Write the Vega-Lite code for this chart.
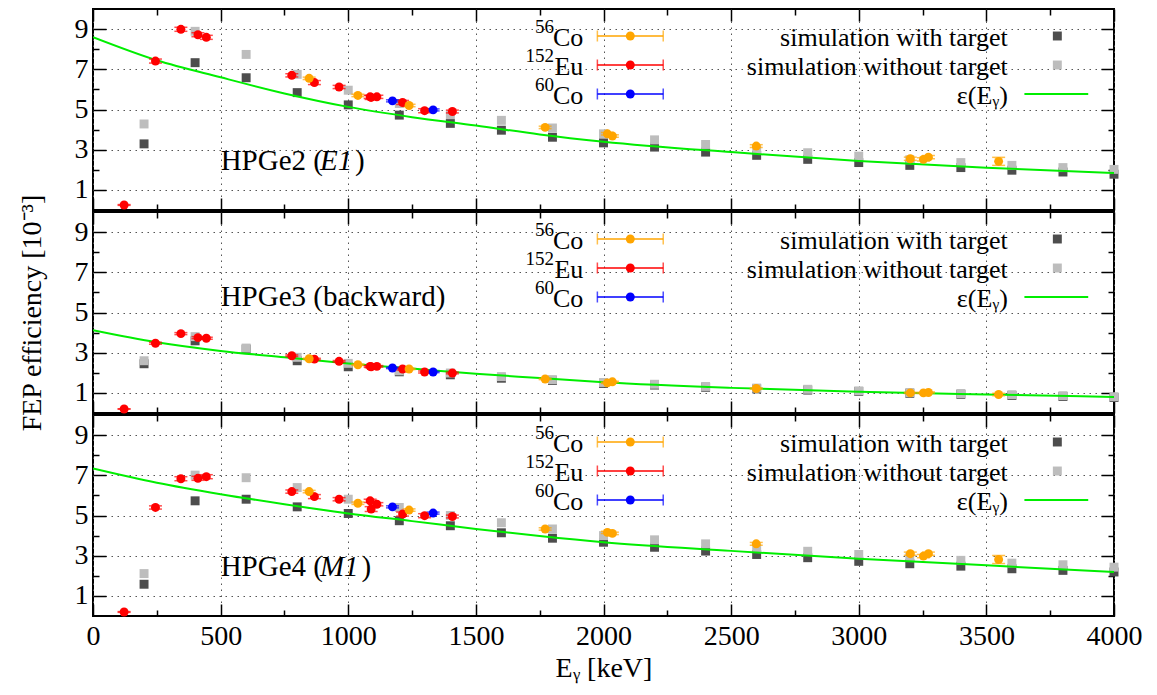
{
"$schema":"https://vega.github.io/schema/vega-lite/v6.json",
"background":"white",
"padding":{"left":16,"top":7,"right":5,"bottom":2},
"spacing":2,
"bounds":"flush",
"config":{
 "concat":{"spacing":2},
 "view":{"stroke":"black","strokeWidth":2},
 "axis":{"domain":false,"grid":false,"labels":false,"ticks":true,"minExtent":0,"tickColor":"black","tickWidth":1.5,"labelFont":"Liberation Serif","labelFontSize":28,"labelColor":"black","titleFont":"Liberation Serif","titleFontSize":28,"titleFontWeight":"normal","titleColor":"black","gridColor":"#555555","gridDash":[1.5,4.5],"gridWidth":1,"labelFlush":false,"labelOverlap":false}
},
"datasets":{
 "meas":[
  {"d":"HPGe2","s":"152Eu","E":121.8,"v":0.25,"e":0.02},{"d":"HPGe2","s":"152Eu","E":244.7,"v":7.41,"e":0.1},{"d":"HPGe2","s":"152Eu","E":344.3,"v":8.99,"e":0.1},{"d":"HPGe2","s":"152Eu","E":411.1,"v":8.72,"e":0.1},{"d":"HPGe2","s":"152Eu","E":444.0,"v":8.59,"e":0.1},{"d":"HPGe2","s":"152Eu","E":778.9,"v":6.70,"e":0.08},{"d":"HPGe2","s":"152Eu","E":867.4,"v":6.34,"e":0.1},{"d":"HPGe2","s":"152Eu","E":964.1,"v":6.12,"e":0.08},{"d":"HPGe2","s":"152Eu","E":1085.8,"v":5.63,"e":0.08},{"d":"HPGe2","s":"152Eu","E":1089.7,"v":5.60,"e":0.1},{"d":"HPGe2","s":"152Eu","E":1112.1,"v":5.63,"e":0.08},{"d":"HPGe2","s":"152Eu","E":1212.9,"v":5.35,"e":0.1},{"d":"HPGe2","s":"152Eu","E":1299.1,"v":4.94,"e":0.1},{"d":"HPGe2","s":"152Eu","E":1408.0,"v":4.90,"e":0.07},
  {"d":"HPGe2","s":"56Co","E":846.8,"v":6.55,"e":0.06},{"d":"HPGe2","s":"56Co","E":1037.8,"v":5.70,"e":0.06},{"d":"HPGe2","s":"56Co","E":1238.3,"v":5.20,"e":0.06},{"d":"HPGe2","s":"56Co","E":1771.4,"v":4.11,"e":0.06},{"d":"HPGe2","s":"56Co","E":2015.2,"v":3.79,"e":0.06},{"d":"HPGe2","s":"56Co","E":2034.8,"v":3.68,"e":0.06},{"d":"HPGe2","s":"56Co","E":2598.5,"v":3.18,"e":0.07},{"d":"HPGe2","s":"56Co","E":3202.0,"v":2.55,"e":0.08},{"d":"HPGe2","s":"56Co","E":3253.4,"v":2.52,"e":0.08},{"d":"HPGe2","s":"56Co","E":3273.0,"v":2.63,"e":0.08},{"d":"HPGe2","s":"56Co","E":3548.0,"v":2.42,"e":0.2},
  {"d":"HPGe2","s":"60Co","E":1173.2,"v":5.43,"e":0.05},{"d":"HPGe2","s":"60Co","E":1332.5,"v":4.98,"e":0.05},
  {"d":"HPGe3","s":"152Eu","E":121.8,"v":0.2,"e":0.01},{"d":"HPGe3","s":"152Eu","E":244.7,"v":3.47,"e":0.05},{"d":"HPGe3","s":"152Eu","E":344.3,"v":3.95,"e":0.05},{"d":"HPGe3","s":"152Eu","E":411.1,"v":3.75,"e":0.05},{"d":"HPGe3","s":"152Eu","E":444.0,"v":3.72,"e":0.05},{"d":"HPGe3","s":"152Eu","E":778.9,"v":2.85,"e":0.04},{"d":"HPGe3","s":"152Eu","E":867.4,"v":2.68,"e":0.04},{"d":"HPGe3","s":"152Eu","E":964.1,"v":2.57,"e":0.04},{"d":"HPGe3","s":"152Eu","E":1085.8,"v":2.32,"e":0.04},{"d":"HPGe3","s":"152Eu","E":1089.7,"v":2.30,"e":0.05},{"d":"HPGe3","s":"152Eu","E":1112.1,"v":2.32,"e":0.04},{"d":"HPGe3","s":"152Eu","E":1212.9,"v":2.19,"e":0.05},{"d":"HPGe3","s":"152Eu","E":1299.1,"v":2.04,"e":0.05},{"d":"HPGe3","s":"152Eu","E":1408.0,"v":1.99,"e":0.04},
  {"d":"HPGe3","s":"56Co","E":846.8,"v":2.70,"e":0.03},{"d":"HPGe3","s":"56Co","E":1037.8,"v":2.40,"e":0.03},{"d":"HPGe3","s":"56Co","E":1238.3,"v":2.19,"e":0.03},{"d":"HPGe3","s":"56Co","E":1771.4,"v":1.69,"e":0.03},{"d":"HPGe3","s":"56Co","E":2015.2,"v":1.50,"e":0.03},{"d":"HPGe3","s":"56Co","E":2034.8,"v":1.55,"e":0.03},{"d":"HPGe3","s":"56Co","E":2598.5,"v":1.22,"e":0.03},{"d":"HPGe3","s":"56Co","E":3202.0,"v":1.00,"e":0.03},{"d":"HPGe3","s":"56Co","E":3253.4,"v":1.00,"e":0.03},{"d":"HPGe3","s":"56Co","E":3273.0,"v":1.02,"e":0.03},{"d":"HPGe3","s":"56Co","E":3548.0,"v":0.92,"e":0.06},
  {"d":"HPGe3","s":"60Co","E":1173.2,"v":2.24,"e":0.03},{"d":"HPGe3","s":"60Co","E":1332.5,"v":2.04,"e":0.03},
  {"d":"HPGe4","s":"152Eu","E":121.8,"v":0.2,"e":0.02},{"d":"HPGe4","s":"152Eu","E":244.7,"v":5.40,"e":0.08},{"d":"HPGe4","s":"152Eu","E":344.3,"v":6.83,"e":0.1},{"d":"HPGe4","s":"152Eu","E":411.1,"v":6.85,"e":0.1},{"d":"HPGe4","s":"152Eu","E":444.0,"v":6.93,"e":0.1},{"d":"HPGe4","s":"152Eu","E":778.9,"v":6.19,"e":0.08},{"d":"HPGe4","s":"152Eu","E":867.4,"v":5.94,"e":0.1},{"d":"HPGe4","s":"152Eu","E":964.1,"v":5.81,"e":0.08},{"d":"HPGe4","s":"152Eu","E":1085.8,"v":5.73,"e":0.08},{"d":"HPGe4","s":"152Eu","E":1089.7,"v":5.32,"e":0.12},{"d":"HPGe4","s":"152Eu","E":1112.1,"v":5.56,"e":0.08},{"d":"HPGe4","s":"152Eu","E":1212.9,"v":5.07,"e":0.1},{"d":"HPGe4","s":"152Eu","E":1299.1,"v":4.99,"e":0.1},{"d":"HPGe4","s":"152Eu","E":1408.0,"v":4.95,"e":0.07},
  {"d":"HPGe4","s":"56Co","E":846.8,"v":6.19,"e":0.06},{"d":"HPGe4","s":"56Co","E":1037.8,"v":5.61,"e":0.06},{"d":"HPGe4","s":"56Co","E":1238.3,"v":5.27,"e":0.06},{"d":"HPGe4","s":"56Co","E":1771.4,"v":4.33,"e":0.06},{"d":"HPGe4","s":"56Co","E":2015.2,"v":4.16,"e":0.06},{"d":"HPGe4","s":"56Co","E":2034.8,"v":4.11,"e":0.06},{"d":"HPGe4","s":"56Co","E":2598.5,"v":3.59,"e":0.07},{"d":"HPGe4","s":"56Co","E":3202.0,"v":3.10,"e":0.08},{"d":"HPGe4","s":"56Co","E":3253.4,"v":2.98,"e":0.08},{"d":"HPGe4","s":"56Co","E":3273.0,"v":3.10,"e":0.08},{"d":"HPGe4","s":"56Co","E":3548.0,"v":2.81,"e":0.2},
  {"d":"HPGe4","s":"60Co","E":1173.2,"v":5.43,"e":0.05},{"d":"HPGe4","s":"60Co","E":1332.5,"v":5.12,"e":0.05}
 ],
 "sim":[
  {"d":"HPGe2","k":"with","E":200,"v":3.29},{"d":"HPGe2","k":"with","E":400,"v":7.33},{"d":"HPGe2","k":"with","E":600,"v":6.58},{"d":"HPGe2","k":"with","E":800,"v":5.84},{"d":"HPGe2","k":"with","E":1000,"v":5.23},{"d":"HPGe2","k":"with","E":1200,"v":4.72},{"d":"HPGe2","k":"with","E":1400,"v":4.31},{"d":"HPGe2","k":"with","E":1600,"v":3.97},{"d":"HPGe2","k":"with","E":1800,"v":3.62},{"d":"HPGe2","k":"with","E":2000,"v":3.34},{"d":"HPGe2","k":"with","E":2200,"v":3.13},{"d":"HPGe2","k":"with","E":2400,"v":2.88},{"d":"HPGe2","k":"with","E":2600,"v":2.72},{"d":"HPGe2","k":"with","E":2800,"v":2.52},{"d":"HPGe2","k":"with","E":3000,"v":2.36},{"d":"HPGe2","k":"with","E":3200,"v":2.22},{"d":"HPGe2","k":"with","E":3400,"v":2.11},{"d":"HPGe2","k":"with","E":3600,"v":1.98},{"d":"HPGe2","k":"with","E":3800,"v":1.89},{"d":"HPGe2","k":"with","E":4000,"v":1.78},
  {"d":"HPGe2","k":"without","E":200,"v":4.28},{"d":"HPGe2","k":"without","E":400,"v":8.89},{"d":"HPGe2","k":"without","E":600,"v":7.74},{"d":"HPGe2","k":"without","E":800,"v":6.75},{"d":"HPGe2","k":"without","E":1000,"v":5.96},{"d":"HPGe2","k":"without","E":1200,"v":5.30},{"d":"HPGe2","k":"without","E":1400,"v":4.74},{"d":"HPGe2","k":"without","E":1600,"v":4.46},{"d":"HPGe2","k":"without","E":1800,"v":4.08},{"d":"HPGe2","k":"without","E":2000,"v":3.79},{"d":"HPGe2","k":"without","E":2200,"v":3.49},{"d":"HPGe2","k":"without","E":2400,"v":3.26},{"d":"HPGe2","k":"without","E":2600,"v":3.00},{"d":"HPGe2","k":"without","E":2800,"v":2.85},{"d":"HPGe2","k":"without","E":3000,"v":2.68},{"d":"HPGe2","k":"without","E":3200,"v":2.50},{"d":"HPGe2","k":"without","E":3400,"v":2.36},{"d":"HPGe2","k":"without","E":3600,"v":2.22},{"d":"HPGe2","k":"without","E":3800,"v":2.11},{"d":"HPGe2","k":"without","E":4000,"v":2.02},
  {"d":"HPGe3","k":"with","E":200,"v":2.45},{"d":"HPGe3","k":"with","E":400,"v":3.59},{"d":"HPGe3","k":"with","E":600,"v":3.18},{"d":"HPGe3","k":"with","E":800,"v":2.60},{"d":"HPGe3","k":"with","E":1000,"v":2.30},{"d":"HPGe3","k":"with","E":1200,"v":2.05},{"d":"HPGe3","k":"with","E":1400,"v":1.90},{"d":"HPGe3","k":"with","E":1600,"v":1.73},{"d":"HPGe3","k":"with","E":1800,"v":1.62},{"d":"HPGe3","k":"with","E":2000,"v":1.47},{"d":"HPGe3","k":"with","E":2200,"v":1.39},{"d":"HPGe3","k":"with","E":2400,"v":1.28},{"d":"HPGe3","k":"with","E":2600,"v":1.20},{"d":"HPGe3","k":"with","E":2800,"v":1.14},{"d":"HPGe3","k":"with","E":3000,"v":1.07},{"d":"HPGe3","k":"with","E":3200,"v":0.98},{"d":"HPGe3","k":"with","E":3400,"v":0.93},{"d":"HPGe3","k":"with","E":3600,"v":0.87},{"d":"HPGe3","k":"with","E":3800,"v":0.82},{"d":"HPGe3","k":"with","E":4000,"v":0.77},
  {"d":"HPGe3","k":"without","E":200,"v":2.60},{"d":"HPGe3","k":"without","E":400,"v":3.80},{"d":"HPGe3","k":"without","E":600,"v":3.23},{"d":"HPGe3","k":"without","E":800,"v":2.77},{"d":"HPGe3","k":"without","E":1000,"v":2.47},{"d":"HPGe3","k":"without","E":1200,"v":2.10},{"d":"HPGe3","k":"without","E":1400,"v":1.99},{"d":"HPGe3","k":"without","E":1600,"v":1.81},{"d":"HPGe3","k":"without","E":1800,"v":1.66},{"d":"HPGe3","k":"without","E":2000,"v":1.52},{"d":"HPGe3","k":"without","E":2200,"v":1.43},{"d":"HPGe3","k":"without","E":2400,"v":1.32},{"d":"HPGe3","k":"without","E":2600,"v":1.24},{"d":"HPGe3","k":"without","E":2800,"v":1.18},{"d":"HPGe3","k":"without","E":3000,"v":1.10},{"d":"HPGe3","k":"without","E":3200,"v":1.02},{"d":"HPGe3","k":"without","E":3400,"v":0.97},{"d":"HPGe3","k":"without","E":3600,"v":0.91},{"d":"HPGe3","k":"without","E":3800,"v":0.86},{"d":"HPGe3","k":"without","E":4000,"v":0.81},
  {"d":"HPGe4","k":"with","E":200,"v":1.58},{"d":"HPGe4","k":"with","E":400,"v":5.73},{"d":"HPGe4","k":"with","E":600,"v":5.81},{"d":"HPGe4","k":"with","E":800,"v":5.43},{"d":"HPGe4","k":"with","E":1000,"v":5.10},{"d":"HPGe4","k":"with","E":1200,"v":4.74},{"d":"HPGe4","k":"with","E":1400,"v":4.49},{"d":"HPGe4","k":"with","E":1600,"v":4.14},{"d":"HPGe4","k":"with","E":1800,"v":3.87},{"d":"HPGe4","k":"with","E":2000,"v":3.67},{"d":"HPGe4","k":"with","E":2200,"v":3.42},{"d":"HPGe4","k":"with","E":2400,"v":3.23},{"d":"HPGe4","k":"with","E":2600,"v":3.06},{"d":"HPGe4","k":"with","E":2800,"v":2.90},{"d":"HPGe4","k":"with","E":3000,"v":2.72},{"d":"HPGe4","k":"with","E":3200,"v":2.60},{"d":"HPGe4","k":"with","E":3400,"v":2.48},{"d":"HPGe4","k":"with","E":3600,"v":2.35},{"d":"HPGe4","k":"with","E":3800,"v":2.27},{"d":"HPGe4","k":"with","E":4000,"v":2.19},
  {"d":"HPGe4","k":"without","E":200,"v":2.11},{"d":"HPGe4","k":"without","E":400,"v":7.01},{"d":"HPGe4","k":"without","E":600,"v":6.88},{"d":"HPGe4","k":"without","E":800,"v":6.39},{"d":"HPGe4","k":"without","E":1000,"v":5.81},{"d":"HPGe4","k":"without","E":1200,"v":5.40},{"d":"HPGe4","k":"without","E":1400,"v":5.00},{"d":"HPGe4","k":"without","E":1600,"v":4.64},{"d":"HPGe4","k":"without","E":1800,"v":4.33},{"d":"HPGe4","k":"without","E":2000,"v":4.00},{"d":"HPGe4","k":"without","E":2200,"v":3.79},{"d":"HPGe4","k":"without","E":2400,"v":3.59},{"d":"HPGe4","k":"without","E":2600,"v":3.37},{"d":"HPGe4","k":"without","E":2800,"v":3.22},{"d":"HPGe4","k":"without","E":3000,"v":3.06},{"d":"HPGe4","k":"without","E":3200,"v":2.93},{"d":"HPGe4","k":"without","E":3400,"v":2.77},{"d":"HPGe4","k":"without","E":3600,"v":2.63},{"d":"HPGe4","k":"without","E":3800,"v":2.55},{"d":"HPGe4","k":"without","E":4000,"v":2.43}
 ],
 "fit":[
  {"d":"HPGe2","E":0,"v":8.6},{"d":"HPGe2","E":250,"v":7.45},{"d":"HPGe2","E":500,"v":6.6},{"d":"HPGe2","E":750,"v":5.8},{"d":"HPGe2","E":1000,"v":5.13},{"d":"HPGe2","E":1250,"v":4.62},{"d":"HPGe2","E":1500,"v":4.2},{"d":"HPGe2","E":1750,"v":3.76},{"d":"HPGe2","E":2000,"v":3.4},{"d":"HPGe2","E":2500,"v":2.88},{"d":"HPGe2","E":3000,"v":2.44},{"d":"HPGe2","E":3500,"v":2.1},{"d":"HPGe2","E":4000,"v":1.84},
  {"d":"HPGe3","E":0,"v":4.12},{"d":"HPGe3","E":250,"v":3.52},{"d":"HPGe3","E":500,"v":3.09},{"d":"HPGe3","E":750,"v":2.77},{"d":"HPGe3","E":1000,"v":2.46},{"d":"HPGe3","E":1250,"v":2.21},{"d":"HPGe3","E":1500,"v":1.95},{"d":"HPGe3","E":1750,"v":1.74},{"d":"HPGe3","E":2000,"v":1.53},{"d":"HPGe3","E":2500,"v":1.25},{"d":"HPGe3","E":3000,"v":1.06},{"d":"HPGe3","E":3500,"v":0.92},{"d":"HPGe3","E":4000,"v":0.8},
  {"d":"HPGe4","E":0,"v":7.34},{"d":"HPGe4","E":250,"v":6.63},{"d":"HPGe4","E":500,"v":6.06},{"d":"HPGe4","E":750,"v":5.56},{"d":"HPGe4","E":1000,"v":5.1},{"d":"HPGe4","E":1250,"v":4.72},{"d":"HPGe4","E":1500,"v":4.33},{"d":"HPGe4","E":1750,"v":3.98},{"d":"HPGe4","E":2000,"v":3.67},{"d":"HPGe4","E":2500,"v":3.24},{"d":"HPGe4","E":3000,"v":2.85},{"d":"HPGe4","E":3500,"v":2.52},{"d":"HPGe4","E":4000,"v":2.19}
 ],
 "legend":[
  {"t":"Co","sup":"56","r":1,"c":"src","k":"56Co"},{"t":"Eu","sup":"152","r":2,"c":"src","k":"152Eu"},{"t":"Co","sup":"60","r":3,"c":"src","k":"60Co"},
  {"t":"simulation with target","sup":"","r":1,"c":"sim","k":"with"},{"t":"simulation without target","sup":"","r":2,"c":"sim","k":"without"},{"t":"ε(Eᵧ)","sup":"","r":3,"c":"sim","k":"fit"}
 ],
 "labels":[
  {"d":"HPGe2","a":"HPGe2 (","b":"E1","c":")"},
  {"d":"HPGe3","a":"HPGe3 (backward)","b":"","c":""},
  {"d":"HPGe4","a":"HPGe4 (","b":"M1","c":")"}
 ]
},
"vconcat":[
 {
  "width":1021,"height":201,
  "resolve":{"scale":{"x":"independent","y":"independent"}},
  "layer":[
   {"data":{"name":"sim"},"transform":[{"filter":"datum.d=='HPGe2' && datum.k=='with'"}],
    "mark":{"type":"square","filled":true,"size":80,"opacity":1},
    "encoding":{"x":{"field":"E","type":"quantitative","scale":{"domain":[0,4000],"nice":false,"zero":false},"axis":{"orient":"bottom","values":[0,500,1000,1500,2000,2500,3000,3500,4000],"tickSize":-12,"grid":true,"title":null}},
     "y":{"field":"v","type":"quantitative","scale":{"domain":[0,10],"nice":false,"zero":false},"axis":{"orient":"left","values":[1,3,5,7,9],"tickSize":-13,"grid":true,"title":null}},
     "color":{"field":"k","type":"nominal","scale":{"domain":["56Co","152Eu","60Co","with","without","fit"],"range":["#ffa500","#ff0000","#0000ff","#4d4d4d","#bdbdbd","#00ee00"]},"legend":null}}},
   {"data":{"name":"sim"},"transform":[{"filter":"datum.d=='HPGe2' && datum.k=='without'"}],
    "mark":{"type":"square","filled":true,"size":80,"opacity":1},
    "encoding":{"x":{"field":"E","type":"quantitative","scale":{"domain":[0,4000],"nice":false,"zero":false},"axis":{"orient":"bottom","values":[250,750,1250,1750,2250,2750,3250,3750],"tickSize":-6,"title":null}},
     "y":{"field":"v","type":"quantitative","scale":{"domain":[0,10],"nice":false,"zero":false},"axis":{"orient":"left","values":[2,4,6,8],"tickSize":-6,"title":null}},
     "color":{"field":"k","type":"nominal","scale":{"domain":["56Co","152Eu","60Co","with","without","fit"],"range":["#ffa500","#ff0000","#0000ff","#4d4d4d","#bdbdbd","#00ee00"]},"legend":null}}},
   {"data":{"name":"fit"},"transform":[{"filter":"datum.d=='HPGe2'"}],
    "mark":{"type":"line","interpolate":"monotone","color":"#00ee00","strokeWidth":2,"clip":true},
    "encoding":{"x":{"field":"E","type":"quantitative","scale":{"domain":[0,4000],"nice":false,"zero":false},"axis":{"orient":"top","values":[0,500,1000,1500,2000,2500,3000,3500,4000],"tickSize":-12,"title":null}},
     "y":{"field":"v","type":"quantitative","scale":{"domain":[0,10],"nice":false,"zero":false},"axis":{"orient":"right","values":[1,3,5,7,9],"tickSize":-13,"title":null}}}},
   {"data":{"name":"meas"},"transform":[{"filter":"datum.d=='HPGe2'"}],
    "mark":{"type":"errorbar","ticks":{"size":13,"thickness":1.5},"thickness":1.5},
    "encoding":{"x":{"field":"E","type":"quantitative","scale":{"domain":[0,4000],"nice":false,"zero":false},"axis":null},
     "y":{"field":"v","type":"quantitative","scale":{"domain":[0,10],"nice":false,"zero":false},"axis":null},
     "yError":{"field":"e"},
     "color":{"field":"s","type":"nominal","scale":{"domain":["56Co","152Eu","60Co","with","without","fit"],"range":["#ffa500","#ff0000","#0000ff","#4d4d4d","#bdbdbd","#00ee00"]},"legend":null}}},
   {"data":{"name":"meas"},"transform":[{"filter":"datum.d=='HPGe2'"}],
    "mark":{"type":"circle","size":80,"opacity":1},
    "encoding":{"x":{"field":"E","type":"quantitative","scale":{"domain":[0,4000],"nice":false,"zero":false},"axis":{"orient":"top","values":[250,750,1250,1750,2250,2750,3250,3750],"tickSize":-6,"title":null}},
     "y":{"field":"v","type":"quantitative","scale":{"domain":[0,10],"nice":false,"zero":false},"axis":{"orient":"right","values":[2,4,6,8],"tickSize":-6,"title":null}},
     "color":{"field":"s","type":"nominal","scale":{"domain":["56Co","152Eu","60Co","with","without","fit"],"range":["#ffa500","#ff0000","#0000ff","#4d4d4d","#bdbdbd","#00ee00"]},"legend":null}}},
   {"data":{"name":"labels"},"transform":[{"filter":"datum.d=='HPGe2'"}],
    "mark":{"type":"text","font":"Liberation Serif","fontSize":29,"align":"left","baseline":"middle","color":"black"},
    "encoding":{"x":{"datum":500,"type":"quantitative","scale":{"domain":[0,4000],"nice":false,"zero":false},"axis":null},
     "y":{"datum":2.42,"type":"quantitative","scale":{"domain":[0,10],"nice":false,"zero":false},"axis":{"orient":"left","values":[1,3,5,7,9],"ticks":false,"tickSize":0,"labels":true,"labelPadding":5,"title":null}},
     "text":{"field":"a"}}},
   {"data":{"name":"labels"},"transform":[{"filter":"datum.d=='HPGe2'"}],
    "mark":{"type":"text","font":"Liberation Serif","fontSize":29,"fontStyle":"italic","align":"left","baseline":"middle","color":"black"},
    "encoding":{"x":{"datum":889,"type":"quantitative","scale":{"domain":[0,4000],"nice":false,"zero":false},"axis":null},
     "y":{"datum":2.42,"type":"quantitative","scale":{"domain":[0,10],"nice":false,"zero":false},"axis":null},
     "text":{"field":"b"}}},
   {"data":{"name":"labels"},"transform":[{"filter":"datum.d=='HPGe2'"}],
    "mark":{"type":"text","font":"Liberation Serif","fontSize":29,"align":"left","baseline":"middle","color":"black"},
    "encoding":{"x":{"datum":1026,"type":"quantitative","scale":{"domain":[0,4000],"nice":false,"zero":false},"axis":null},
     "y":{"datum":2.42,"type":"quantitative","scale":{"domain":[0,10],"nice":false,"zero":false},"axis":null},
     "text":{"field":"c"}}},
   {"data":{"name":"legend"},"transform":[{"filter":"datum.c=='src'"}],
    "mark":{"type":"text","font":"Liberation Serif","fontSize":26,"align":"right","baseline":"middle","dy":2,"color":"black"},
    "encoding":{"x":{"datum":1921,"type":"quantitative","scale":{"domain":[0,4000],"nice":false,"zero":false},"axis":null},
     "y":{"field":"r","type":"quantitative","scale":{"domain":[7.0,0.069],"nice":false,"zero":false},"axis":null},
     "text":{"field":"t"}}},
   {"data":{"name":"legend"},"transform":[{"filter":"datum.c=='src'"}],
    "mark":{"type":"text","font":"Liberation Serif","fontSize":19,"align":"right","baseline":"middle","dy":-9,"color":"black"},
    "encoding":{"x":{"datum":1806,"type":"quantitative","scale":{"domain":[0,4000],"nice":false,"zero":false},"axis":null},
     "y":{"field":"r","type":"quantitative","scale":{"domain":[7.0,0.069],"nice":false,"zero":false},"axis":null},
     "text":{"field":"sup"}}},
   {"data":{"name":"legend"},"transform":[{"filter":"datum.c=='sim'"}],
    "mark":{"type":"text","font":"Liberation Serif","fontSize":26,"align":"right","baseline":"middle","dy":2,"color":"black"},
    "encoding":{"x":{"datum":3584,"type":"quantitative","scale":{"domain":[0,4000],"nice":false,"zero":false},"axis":null},
     "y":{"field":"r","type":"quantitative","scale":{"domain":[7.0,0.069],"nice":false,"zero":false},"axis":null},
     "text":{"field":"t"}}},
   {"data":{"name":"legend"},"transform":[{"filter":"datum.c=='src'"}],
    "mark":{"type":"rule","strokeWidth":1.5},
    "encoding":{"x":{"datum":1976,"type":"quantitative","scale":{"domain":[0,4000],"nice":false,"zero":false},"axis":null},"x2":{"datum":2234},
     "y":{"field":"r","type":"quantitative","scale":{"domain":[7.0,0.069],"nice":false,"zero":false},"axis":null},
     "color":{"field":"k","type":"nominal","scale":{"domain":["56Co","152Eu","60Co","with","without","fit"],"range":["#ffa500","#ff0000","#0000ff","#4d4d4d","#bdbdbd","#00ee00"]},"legend":null}}},
   {"data":{"name":"legend"},"transform":[{"filter":"datum.c=='src'"}],
    "mark":{"type":"tick","orient":"vertical","size":11,"thickness":1.5},
    "encoding":{"x":{"datum":1976,"type":"quantitative","scale":{"domain":[0,4000],"nice":false,"zero":false},"axis":null},
     "y":{"field":"r","type":"quantitative","scale":{"domain":[7.0,0.069],"nice":false,"zero":false},"axis":null},
     "color":{"field":"k","type":"nominal","scale":{"domain":["56Co","152Eu","60Co","with","without","fit"],"range":["#ffa500","#ff0000","#0000ff","#4d4d4d","#bdbdbd","#00ee00"]},"legend":null}}},
   {"data":{"name":"legend"},"transform":[{"filter":"datum.c=='src'"}],
    "mark":{"type":"tick","orient":"vertical","size":11,"thickness":1.5},
    "encoding":{"x":{"datum":2234,"type":"quantitative","scale":{"domain":[0,4000],"nice":false,"zero":false},"axis":null},
     "y":{"field":"r","type":"quantitative","scale":{"domain":[7.0,0.069],"nice":false,"zero":false},"axis":null},
     "color":{"field":"k","type":"nominal","scale":{"domain":["56Co","152Eu","60Co","with","without","fit"],"range":["#ffa500","#ff0000","#0000ff","#4d4d4d","#bdbdbd","#00ee00"]},"legend":null}}},
   {"data":{"name":"legend"},"transform":[{"filter":"datum.c=='src'"}],
    "mark":{"type":"circle","size":80,"opacity":1},
    "encoding":{"x":{"datum":2105,"type":"quantitative","scale":{"domain":[0,4000],"nice":false,"zero":false},"axis":null},
     "y":{"field":"r","type":"quantitative","scale":{"domain":[7.0,0.069],"nice":false,"zero":false},"axis":null},
     "color":{"field":"k","type":"nominal","scale":{"domain":["56Co","152Eu","60Co","with","without","fit"],"range":["#ffa500","#ff0000","#0000ff","#4d4d4d","#bdbdbd","#00ee00"]},"legend":null}}},
   {"data":{"name":"legend"},"transform":[{"filter":"datum.k=='with' || datum.k=='without'"}],
    "mark":{"type":"square","filled":true,"size":80,"opacity":1},
    "encoding":{"x":{"datum":3778,"type":"quantitative","scale":{"domain":[0,4000],"nice":false,"zero":false},"axis":null},
     "y":{"field":"r","type":"quantitative","scale":{"domain":[7.0,0.069],"nice":false,"zero":false},"axis":null},
     "color":{"field":"k","type":"nominal","scale":{"domain":["56Co","152Eu","60Co","with","without","fit"],"range":["#ffa500","#ff0000","#0000ff","#4d4d4d","#bdbdbd","#00ee00"]},"legend":null}}},
   {"data":{"name":"legend"},"transform":[{"filter":"datum.k=='fit'"}],
    "mark":{"type":"rule","strokeWidth":2,"color":"#00ee00"},
    "encoding":{"x":{"datum":3649,"type":"quantitative","scale":{"domain":[0,4000],"nice":false,"zero":false},"axis":null},"x2":{"datum":3899},
     "y":{"field":"r","type":"quantitative","scale":{"domain":[7.0,0.069],"nice":false,"zero":false},"axis":null}}}
  ]
 },
 {
  "width":1021,"height":201,
  "resolve":{"scale":{"x":"independent","y":"independent"}},
  "layer":[
   {"data":{"name":"sim"},"transform":[{"filter":"datum.d=='HPGe3' && datum.k=='with'"}],
    "mark":{"type":"square","filled":true,"size":80,"opacity":1},
    "encoding":{"x":{"field":"E","type":"quantitative","scale":{"domain":[0,4000],"nice":false,"zero":false},"axis":{"orient":"bottom","values":[0,500,1000,1500,2000,2500,3000,3500,4000],"tickSize":-12,"grid":true,"title":null}},
     "y":{"field":"v","type":"quantitative","scale":{"domain":[0,10],"nice":false,"zero":false},"axis":{"orient":"left","values":[1,3,5,7,9],"tickSize":-13,"grid":true,"title":null}},
     "color":{"field":"k","type":"nominal","scale":{"domain":["56Co","152Eu","60Co","with","without","fit"],"range":["#ffa500","#ff0000","#0000ff","#4d4d4d","#bdbdbd","#00ee00"]},"legend":null}}},
   {"data":{"name":"sim"},"transform":[{"filter":"datum.d=='HPGe3' && datum.k=='without'"}],
    "mark":{"type":"square","filled":true,"size":80,"opacity":1},
    "encoding":{"x":{"field":"E","type":"quantitative","scale":{"domain":[0,4000],"nice":false,"zero":false},"axis":{"orient":"bottom","values":[250,750,1250,1750,2250,2750,3250,3750],"tickSize":-6,"title":null}},
     "y":{"field":"v","type":"quantitative","scale":{"domain":[0,10],"nice":false,"zero":false},"axis":{"orient":"left","values":[2,4,6,8],"tickSize":-6,"title":null}},
     "color":{"field":"k","type":"nominal","scale":{"domain":["56Co","152Eu","60Co","with","without","fit"],"range":["#ffa500","#ff0000","#0000ff","#4d4d4d","#bdbdbd","#00ee00"]},"legend":null}}},
   {"data":{"name":"fit"},"transform":[{"filter":"datum.d=='HPGe3'"}],
    "mark":{"type":"line","interpolate":"monotone","color":"#00ee00","strokeWidth":2,"clip":true},
    "encoding":{"x":{"field":"E","type":"quantitative","scale":{"domain":[0,4000],"nice":false,"zero":false},"axis":{"orient":"top","values":[0,500,1000,1500,2000,2500,3000,3500,4000],"tickSize":-12,"title":null}},
     "y":{"field":"v","type":"quantitative","scale":{"domain":[0,10],"nice":false,"zero":false},"axis":{"orient":"right","values":[1,3,5,7,9],"tickSize":-13,"title":null}}}},
   {"data":{"name":"meas"},"transform":[{"filter":"datum.d=='HPGe3'"}],
    "mark":{"type":"errorbar","ticks":{"size":13,"thickness":1.5},"thickness":1.5},
    "encoding":{"x":{"field":"E","type":"quantitative","scale":{"domain":[0,4000],"nice":false,"zero":false},"axis":null},
     "y":{"field":"v","type":"quantitative","scale":{"domain":[0,10],"nice":false,"zero":false},"axis":null},
     "yError":{"field":"e"},
     "color":{"field":"s","type":"nominal","scale":{"domain":["56Co","152Eu","60Co","with","without","fit"],"range":["#ffa500","#ff0000","#0000ff","#4d4d4d","#bdbdbd","#00ee00"]},"legend":null}}},
   {"data":{"name":"meas"},"transform":[{"filter":"datum.d=='HPGe3'"}],
    "mark":{"type":"circle","size":80,"opacity":1},
    "encoding":{"x":{"field":"E","type":"quantitative","scale":{"domain":[0,4000],"nice":false,"zero":false},"axis":{"orient":"top","values":[250,750,1250,1750,2250,2750,3250,3750],"tickSize":-6,"title":null}},
     "y":{"field":"v","type":"quantitative","scale":{"domain":[0,10],"nice":false,"zero":false},"axis":{"orient":"right","values":[2,4,6,8],"tickSize":-6,"title":null}},
     "color":{"field":"s","type":"nominal","scale":{"domain":["56Co","152Eu","60Co","with","without","fit"],"range":["#ffa500","#ff0000","#0000ff","#4d4d4d","#bdbdbd","#00ee00"]},"legend":null}}},
   {"data":{"name":"labels"},"transform":[{"filter":"datum.d=='HPGe3'"}],
    "mark":{"type":"text","font":"Liberation Serif","fontSize":29,"align":"left","baseline":"middle","color":"black"},
    "encoding":{"x":{"datum":500,"type":"quantitative","scale":{"domain":[0,4000],"nice":false,"zero":false},"axis":null},
     "y":{"datum":5.78,"type":"quantitative","scale":{"domain":[0,10],"nice":false,"zero":false},"axis":{"orient":"left","values":[1,3,5,7,9],"ticks":false,"tickSize":0,"labels":true,"labelPadding":5,"title":"FEP efficiency [10⁻³]","titlePadding":28}},
     "text":{"field":"a"}}},
   {"data":{"name":"legend"},"transform":[{"filter":"datum.c=='src'"}],
    "mark":{"type":"text","font":"Liberation Serif","fontSize":26,"align":"right","baseline":"middle","dy":2,"color":"black"},
    "encoding":{"x":{"datum":1921,"type":"quantitative","scale":{"domain":[0,4000],"nice":false,"zero":false},"axis":null},
     "y":{"field":"r","type":"quantitative","scale":{"domain":[7.0,0.069],"nice":false,"zero":false},"axis":null},
     "text":{"field":"t"}}},
   {"data":{"name":"legend"},"transform":[{"filter":"datum.c=='src'"}],
    "mark":{"type":"text","font":"Liberation Serif","fontSize":19,"align":"right","baseline":"middle","dy":-9,"color":"black"},
    "encoding":{"x":{"datum":1806,"type":"quantitative","scale":{"domain":[0,4000],"nice":false,"zero":false},"axis":null},
     "y":{"field":"r","type":"quantitative","scale":{"domain":[7.0,0.069],"nice":false,"zero":false},"axis":null},
     "text":{"field":"sup"}}},
   {"data":{"name":"legend"},"transform":[{"filter":"datum.c=='sim'"}],
    "mark":{"type":"text","font":"Liberation Serif","fontSize":26,"align":"right","baseline":"middle","dy":2,"color":"black"},
    "encoding":{"x":{"datum":3584,"type":"quantitative","scale":{"domain":[0,4000],"nice":false,"zero":false},"axis":null},
     "y":{"field":"r","type":"quantitative","scale":{"domain":[7.0,0.069],"nice":false,"zero":false},"axis":null},
     "text":{"field":"t"}}},
   {"data":{"name":"legend"},"transform":[{"filter":"datum.c=='src'"}],
    "mark":{"type":"rule","strokeWidth":1.5},
    "encoding":{"x":{"datum":1976,"type":"quantitative","scale":{"domain":[0,4000],"nice":false,"zero":false},"axis":null},"x2":{"datum":2234},
     "y":{"field":"r","type":"quantitative","scale":{"domain":[7.0,0.069],"nice":false,"zero":false},"axis":null},
     "color":{"field":"k","type":"nominal","scale":{"domain":["56Co","152Eu","60Co","with","without","fit"],"range":["#ffa500","#ff0000","#0000ff","#4d4d4d","#bdbdbd","#00ee00"]},"legend":null}}},
   {"data":{"name":"legend"},"transform":[{"filter":"datum.c=='src'"}],
    "mark":{"type":"tick","orient":"vertical","size":11,"thickness":1.5},
    "encoding":{"x":{"datum":1976,"type":"quantitative","scale":{"domain":[0,4000],"nice":false,"zero":false},"axis":null},
     "y":{"field":"r","type":"quantitative","scale":{"domain":[7.0,0.069],"nice":false,"zero":false},"axis":null},
     "color":{"field":"k","type":"nominal","scale":{"domain":["56Co","152Eu","60Co","with","without","fit"],"range":["#ffa500","#ff0000","#0000ff","#4d4d4d","#bdbdbd","#00ee00"]},"legend":null}}},
   {"data":{"name":"legend"},"transform":[{"filter":"datum.c=='src'"}],
    "mark":{"type":"tick","orient":"vertical","size":11,"thickness":1.5},
    "encoding":{"x":{"datum":2234,"type":"quantitative","scale":{"domain":[0,4000],"nice":false,"zero":false},"axis":null},
     "y":{"field":"r","type":"quantitative","scale":{"domain":[7.0,0.069],"nice":false,"zero":false},"axis":null},
     "color":{"field":"k","type":"nominal","scale":{"domain":["56Co","152Eu","60Co","with","without","fit"],"range":["#ffa500","#ff0000","#0000ff","#4d4d4d","#bdbdbd","#00ee00"]},"legend":null}}},
   {"data":{"name":"legend"},"transform":[{"filter":"datum.c=='src'"}],
    "mark":{"type":"circle","size":80,"opacity":1},
    "encoding":{"x":{"datum":2105,"type":"quantitative","scale":{"domain":[0,4000],"nice":false,"zero":false},"axis":null},
     "y":{"field":"r","type":"quantitative","scale":{"domain":[7.0,0.069],"nice":false,"zero":false},"axis":null},
     "color":{"field":"k","type":"nominal","scale":{"domain":["56Co","152Eu","60Co","with","without","fit"],"range":["#ffa500","#ff0000","#0000ff","#4d4d4d","#bdbdbd","#00ee00"]},"legend":null}}},
   {"data":{"name":"legend"},"transform":[{"filter":"datum.k=='with' || datum.k=='without'"}],
    "mark":{"type":"square","filled":true,"size":80,"opacity":1},
    "encoding":{"x":{"datum":3778,"type":"quantitative","scale":{"domain":[0,4000],"nice":false,"zero":false},"axis":null},
     "y":{"field":"r","type":"quantitative","scale":{"domain":[7.0,0.069],"nice":false,"zero":false},"axis":null},
     "color":{"field":"k","type":"nominal","scale":{"domain":["56Co","152Eu","60Co","with","without","fit"],"range":["#ffa500","#ff0000","#0000ff","#4d4d4d","#bdbdbd","#00ee00"]},"legend":null}}},
   {"data":{"name":"legend"},"transform":[{"filter":"datum.k=='fit'"}],
    "mark":{"type":"rule","strokeWidth":2,"color":"#00ee00"},
    "encoding":{"x":{"datum":3649,"type":"quantitative","scale":{"domain":[0,4000],"nice":false,"zero":false},"axis":null},"x2":{"datum":3899},
     "y":{"field":"r","type":"quantitative","scale":{"domain":[7.0,0.069],"nice":false,"zero":false},"axis":null}}}
  ]
 },
 {
  "width":1021,"height":201,
  "resolve":{"scale":{"x":"independent","y":"independent"}},
  "layer":[
   {"data":{"name":"sim"},"transform":[{"filter":"datum.d=='HPGe4' && datum.k=='with'"}],
    "mark":{"type":"square","filled":true,"size":80,"opacity":1},
    "encoding":{"x":{"field":"E","type":"quantitative","scale":{"domain":[0,4000],"nice":false,"zero":false},"axis":{"orient":"bottom","values":[0,500,1000,1500,2000,2500,3000,3500,4000],"tickSize":-12,"grid":true,"title":null}},
     "y":{"field":"v","type":"quantitative","scale":{"domain":[0,10],"nice":false,"zero":false},"axis":{"orient":"left","values":[1,3,5,7,9],"tickSize":-13,"grid":true,"title":null}},
     "color":{"field":"k","type":"nominal","scale":{"domain":["56Co","152Eu","60Co","with","without","fit"],"range":["#ffa500","#ff0000","#0000ff","#4d4d4d","#bdbdbd","#00ee00"]},"legend":null}}},
   {"data":{"name":"sim"},"transform":[{"filter":"datum.d=='HPGe4' && datum.k=='without'"}],
    "mark":{"type":"square","filled":true,"size":80,"opacity":1},
    "encoding":{"x":{"field":"E","type":"quantitative","scale":{"domain":[0,4000],"nice":false,"zero":false},"axis":{"orient":"bottom","values":[250,750,1250,1750,2250,2750,3250,3750],"tickSize":-6,"title":null}},
     "y":{"field":"v","type":"quantitative","scale":{"domain":[0,10],"nice":false,"zero":false},"axis":{"orient":"left","values":[2,4,6,8],"tickSize":-6,"title":null}},
     "color":{"field":"k","type":"nominal","scale":{"domain":["56Co","152Eu","60Co","with","without","fit"],"range":["#ffa500","#ff0000","#0000ff","#4d4d4d","#bdbdbd","#00ee00"]},"legend":null}}},
   {"data":{"name":"fit"},"transform":[{"filter":"datum.d=='HPGe4'"}],
    "mark":{"type":"line","interpolate":"monotone","color":"#00ee00","strokeWidth":2,"clip":true},
    "encoding":{"x":{"field":"E","type":"quantitative","scale":{"domain":[0,4000],"nice":false,"zero":false},"axis":{"orient":"top","values":[0,500,1000,1500,2000,2500,3000,3500,4000],"tickSize":-12,"title":null}},
     "y":{"field":"v","type":"quantitative","scale":{"domain":[0,10],"nice":false,"zero":false},"axis":{"orient":"right","values":[1,3,5,7,9],"tickSize":-13,"title":null}}}},
   {"data":{"name":"meas"},"transform":[{"filter":"datum.d=='HPGe4'"}],
    "mark":{"type":"errorbar","ticks":{"size":13,"thickness":1.5},"thickness":1.5},
    "encoding":{"x":{"field":"E","type":"quantitative","scale":{"domain":[0,4000],"nice":false,"zero":false},"axis":null},
     "y":{"field":"v","type":"quantitative","scale":{"domain":[0,10],"nice":false,"zero":false},"axis":null},
     "yError":{"field":"e"},
     "color":{"field":"s","type":"nominal","scale":{"domain":["56Co","152Eu","60Co","with","without","fit"],"range":["#ffa500","#ff0000","#0000ff","#4d4d4d","#bdbdbd","#00ee00"]},"legend":null}}},
   {"data":{"name":"meas"},"transform":[{"filter":"datum.d=='HPGe4'"}],
    "mark":{"type":"circle","size":80,"opacity":1},
    "encoding":{"x":{"field":"E","type":"quantitative","scale":{"domain":[0,4000],"nice":false,"zero":false},"axis":{"orient":"top","values":[250,750,1250,1750,2250,2750,3250,3750],"tickSize":-6,"title":null}},
     "y":{"field":"v","type":"quantitative","scale":{"domain":[0,10],"nice":false,"zero":false},"axis":{"orient":"right","values":[2,4,6,8],"tickSize":-6,"title":null}},
     "color":{"field":"s","type":"nominal","scale":{"domain":["56Co","152Eu","60Co","with","without","fit"],"range":["#ffa500","#ff0000","#0000ff","#4d4d4d","#bdbdbd","#00ee00"]},"legend":null}}},
   {"data":{"name":"labels"},"transform":[{"filter":"datum.d=='HPGe4'"}],
    "mark":{"type":"text","font":"Liberation Serif","fontSize":29,"align":"left","baseline":"middle","color":"black"},
    "encoding":{"x":{"datum":500,"type":"quantitative","scale":{"domain":[0,4000],"nice":false,"zero":false},"axis":{"orient":"bottom","values":[0,500,1000,1500,2000,2500,3000,3500,4000],"format":"d","ticks":false,"tickSize":0,"labels":true,"labelPadding":6,"title":"Eᵧ [keV]","titlePadding":4}},
     "y":{"datum":2.42,"type":"quantitative","scale":{"domain":[0,10],"nice":false,"zero":false},"axis":{"orient":"left","values":[1,3,5,7,9],"ticks":false,"tickSize":0,"labels":true,"labelPadding":5,"title":null}},
     "text":{"field":"a"}}},
   {"data":{"name":"labels"},"transform":[{"filter":"datum.d=='HPGe4'"}],
    "mark":{"type":"text","font":"Liberation Serif","fontSize":29,"fontStyle":"italic","align":"left","baseline":"middle","color":"black"},
    "encoding":{"x":{"datum":889,"type":"quantitative","scale":{"domain":[0,4000],"nice":false,"zero":false},"axis":null},
     "y":{"datum":2.42,"type":"quantitative","scale":{"domain":[0,10],"nice":false,"zero":false},"axis":null},
     "text":{"field":"b"}}},
   {"data":{"name":"labels"},"transform":[{"filter":"datum.d=='HPGe4'"}],
    "mark":{"type":"text","font":"Liberation Serif","fontSize":29,"align":"left","baseline":"middle","color":"black"},
    "encoding":{"x":{"datum":1052,"type":"quantitative","scale":{"domain":[0,4000],"nice":false,"zero":false},"axis":null},
     "y":{"datum":2.42,"type":"quantitative","scale":{"domain":[0,10],"nice":false,"zero":false},"axis":null},
     "text":{"field":"c"}}},
   {"data":{"name":"legend"},"transform":[{"filter":"datum.c=='src'"}],
    "mark":{"type":"text","font":"Liberation Serif","fontSize":26,"align":"right","baseline":"middle","dy":2,"color":"black"},
    "encoding":{"x":{"datum":1921,"type":"quantitative","scale":{"domain":[0,4000],"nice":false,"zero":false},"axis":null},
     "y":{"field":"r","type":"quantitative","scale":{"domain":[7.0,0.069],"nice":false,"zero":false},"axis":null},
     "text":{"field":"t"}}},
   {"data":{"name":"legend"},"transform":[{"filter":"datum.c=='src'"}],
    "mark":{"type":"text","font":"Liberation Serif","fontSize":19,"align":"right","baseline":"middle","dy":-9,"color":"black"},
    "encoding":{"x":{"datum":1806,"type":"quantitative","scale":{"domain":[0,4000],"nice":false,"zero":false},"axis":null},
     "y":{"field":"r","type":"quantitative","scale":{"domain":[7.0,0.069],"nice":false,"zero":false},"axis":null},
     "text":{"field":"sup"}}},
   {"data":{"name":"legend"},"transform":[{"filter":"datum.c=='sim'"}],
    "mark":{"type":"text","font":"Liberation Serif","fontSize":26,"align":"right","baseline":"middle","dy":2,"color":"black"},
    "encoding":{"x":{"datum":3584,"type":"quantitative","scale":{"domain":[0,4000],"nice":false,"zero":false},"axis":null},
     "y":{"field":"r","type":"quantitative","scale":{"domain":[7.0,0.069],"nice":false,"zero":false},"axis":null},
     "text":{"field":"t"}}},
   {"data":{"name":"legend"},"transform":[{"filter":"datum.c=='src'"}],
    "mark":{"type":"rule","strokeWidth":1.5},
    "encoding":{"x":{"datum":1976,"type":"quantitative","scale":{"domain":[0,4000],"nice":false,"zero":false},"axis":null},"x2":{"datum":2234},
     "y":{"field":"r","type":"quantitative","scale":{"domain":[7.0,0.069],"nice":false,"zero":false},"axis":null},
     "color":{"field":"k","type":"nominal","scale":{"domain":["56Co","152Eu","60Co","with","without","fit"],"range":["#ffa500","#ff0000","#0000ff","#4d4d4d","#bdbdbd","#00ee00"]},"legend":null}}},
   {"data":{"name":"legend"},"transform":[{"filter":"datum.c=='src'"}],
    "mark":{"type":"tick","orient":"vertical","size":11,"thickness":1.5},
    "encoding":{"x":{"datum":1976,"type":"quantitative","scale":{"domain":[0,4000],"nice":false,"zero":false},"axis":null},
     "y":{"field":"r","type":"quantitative","scale":{"domain":[7.0,0.069],"nice":false,"zero":false},"axis":null},
     "color":{"field":"k","type":"nominal","scale":{"domain":["56Co","152Eu","60Co","with","without","fit"],"range":["#ffa500","#ff0000","#0000ff","#4d4d4d","#bdbdbd","#00ee00"]},"legend":null}}},
   {"data":{"name":"legend"},"transform":[{"filter":"datum.c=='src'"}],
    "mark":{"type":"tick","orient":"vertical","size":11,"thickness":1.5},
    "encoding":{"x":{"datum":2234,"type":"quantitative","scale":{"domain":[0,4000],"nice":false,"zero":false},"axis":null},
     "y":{"field":"r","type":"quantitative","scale":{"domain":[7.0,0.069],"nice":false,"zero":false},"axis":null},
     "color":{"field":"k","type":"nominal","scale":{"domain":["56Co","152Eu","60Co","with","without","fit"],"range":["#ffa500","#ff0000","#0000ff","#4d4d4d","#bdbdbd","#00ee00"]},"legend":null}}},
   {"data":{"name":"legend"},"transform":[{"filter":"datum.c=='src'"}],
    "mark":{"type":"circle","size":80,"opacity":1},
    "encoding":{"x":{"datum":2105,"type":"quantitative","scale":{"domain":[0,4000],"nice":false,"zero":false},"axis":null},
     "y":{"field":"r","type":"quantitative","scale":{"domain":[7.0,0.069],"nice":false,"zero":false},"axis":null},
     "color":{"field":"k","type":"nominal","scale":{"domain":["56Co","152Eu","60Co","with","without","fit"],"range":["#ffa500","#ff0000","#0000ff","#4d4d4d","#bdbdbd","#00ee00"]},"legend":null}}},
   {"data":{"name":"legend"},"transform":[{"filter":"datum.k=='with' || datum.k=='without'"}],
    "mark":{"type":"square","filled":true,"size":80,"opacity":1},
    "encoding":{"x":{"datum":3778,"type":"quantitative","scale":{"domain":[0,4000],"nice":false,"zero":false},"axis":null},
     "y":{"field":"r","type":"quantitative","scale":{"domain":[7.0,0.069],"nice":false,"zero":false},"axis":null},
     "color":{"field":"k","type":"nominal","scale":{"domain":["56Co","152Eu","60Co","with","without","fit"],"range":["#ffa500","#ff0000","#0000ff","#4d4d4d","#bdbdbd","#00ee00"]},"legend":null}}},
   {"data":{"name":"legend"},"transform":[{"filter":"datum.k=='fit'"}],
    "mark":{"type":"rule","strokeWidth":2,"color":"#00ee00"},
    "encoding":{"x":{"datum":3649,"type":"quantitative","scale":{"domain":[0,4000],"nice":false,"zero":false},"axis":null},"x2":{"datum":3899},
     "y":{"field":"r","type":"quantitative","scale":{"domain":[7.0,0.069],"nice":false,"zero":false},"axis":null}}}
  ]
 }
]
}
